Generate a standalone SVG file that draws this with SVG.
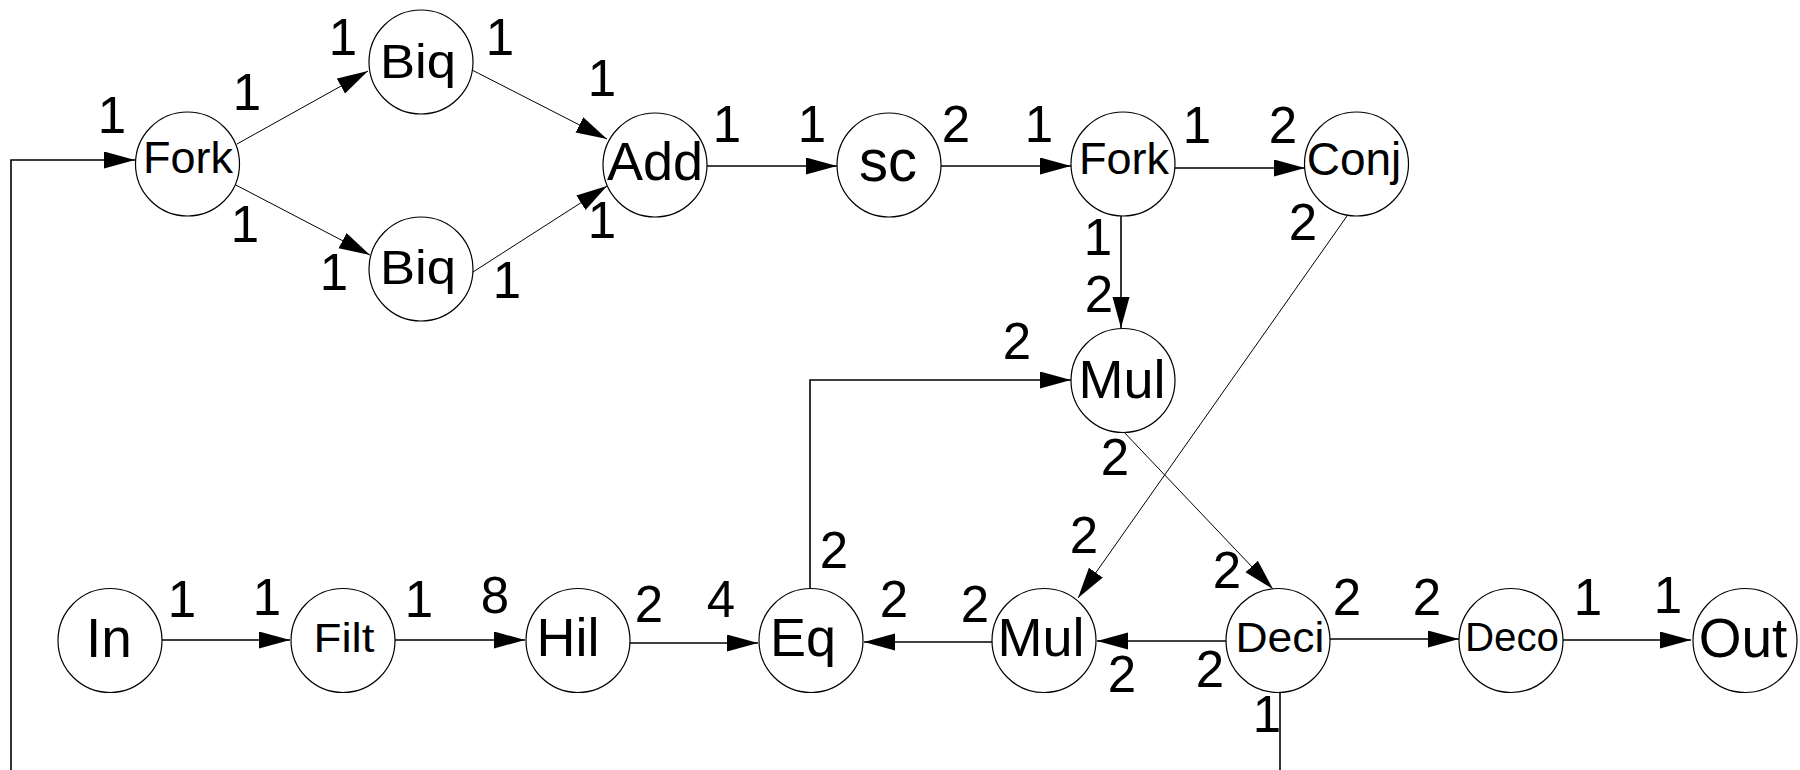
<svg xmlns="http://www.w3.org/2000/svg" width="1800" height="770" viewBox="0 0 1800 770">
<style>
.node circle{fill:#fff;stroke:#000;stroke-width:1.2}
.nt{font-family:"Liberation Sans",Arial,sans-serif;fill:#000;text-anchor:middle}
.lbl{font-family:"Liberation Sans",Arial,sans-serif;font-size:51px;fill:#000;text-anchor:middle}
.e{fill:none;stroke:#000;stroke-width:1.6}
.d{fill:none;stroke:#000;stroke-width:1}
</style>
<defs>
<marker id="ah" markerUnits="userSpaceOnUse" markerWidth="32" markerHeight="18" refX="31" refY="8.5" orient="auto">
<path d="M0,0 L31,8.5 L0,17 z" fill="#000"/>
</marker>
</defs>
<rect width="1800" height="770" fill="#fff"/>
<g id="connectors">
<polyline class="e" points="11,770 11,160 135,160" marker-end="url(#ah)"/>
<line class="e" x1="1280" y1="693" x2="1280" y2="770"/>
<line class="d" x1="237" y1="144" x2="368" y2="71" marker-end="url(#ah)"/>
<line class="d" x1="232" y1="183" x2="370" y2="255" marker-end="url(#ah)"/>
<line class="d" x1="470" y1="69" x2="607" y2="139" marker-end="url(#ah)"/>
<line class="d" x1="473" y1="272" x2="607" y2="186" marker-end="url(#ah)"/>
<line class="e" x1="707" y1="166" x2="837" y2="166" marker-end="url(#ah)"/>
<line class="e" x1="941" y1="166" x2="1071" y2="166" marker-end="url(#ah)"/>
<line class="e" x1="1175" y1="168" x2="1305" y2="168" marker-end="url(#ah)"/>
<line class="e" x1="1121" y1="216" x2="1121" y2="328" marker-end="url(#ah)"/>
<polyline class="e" points="810,588 810,380 1071,380" marker-end="url(#ah)"/>
<line class="d" x1="1347" y1="216" x2="1078" y2="598" marker-end="url(#ah)"/>
<line class="d" x1="1122" y1="430" x2="1273" y2="589" marker-end="url(#ah)"/>
<line class="e" x1="1226" y1="641" x2="1097" y2="641" marker-end="url(#ah)"/>
<line class="e" x1="993" y1="642" x2="864" y2="642" marker-end="url(#ah)"/>
<line class="e" x1="629" y1="643" x2="758" y2="643" marker-end="url(#ah)"/>
<line class="e" x1="162" y1="640" x2="290" y2="640" marker-end="url(#ah)"/>
<line class="e" x1="395" y1="640" x2="525" y2="640" marker-end="url(#ah)"/>
<line class="e" x1="1330" y1="639" x2="1459" y2="639" marker-end="url(#ah)"/>
<line class="e" x1="1563" y1="640" x2="1691" y2="640" marker-end="url(#ah)"/>
</g>
<g id="edge-labels">
<text class="lbl" x="112" y="133">1</text>
<text class="lbl" x="247" y="110">1</text>
<text class="lbl" x="343" y="55">1</text>
<text class="lbl" x="500" y="55">1</text>
<text class="lbl" x="245" y="242">1</text>
<text class="lbl" x="334" y="290">1</text>
<text class="lbl" x="507" y="298">1</text>
<text class="lbl" x="602" y="96">1</text>
<text class="lbl" x="602" y="238">1</text>
<text class="lbl" x="727" y="142">1</text>
<text class="lbl" x="812" y="142">1</text>
<text class="lbl" x="956" y="142">2</text>
<text class="lbl" x="1039" y="142">1</text>
<text class="lbl" x="1197" y="143">1</text>
<text class="lbl" x="1283" y="143">2</text>
<text class="lbl" x="1303" y="240">2</text>
<text class="lbl" x="1098" y="255">1</text>
<text class="lbl" x="1099" y="312">2</text>
<text class="lbl" x="1017" y="359">2</text>
<text class="lbl" x="1115" y="475">2</text>
<text class="lbl" x="834" y="568">2</text>
<text class="lbl" x="1084" y="553">2</text>
<text class="lbl" x="182" y="617">1</text>
<text class="lbl" x="267" y="615">1</text>
<text class="lbl" x="419" y="617">1</text>
<text class="lbl" x="495" y="613">8</text>
<text class="lbl" x="649" y="622">2</text>
<text class="lbl" x="721" y="617">4</text>
<text class="lbl" x="894" y="617">2</text>
<text class="lbl" x="975" y="622">2</text>
<text class="lbl" x="1227" y="588">2</text>
<text class="lbl" x="1347" y="615">2</text>
<text class="lbl" x="1427" y="615">2</text>
<text class="lbl" x="1122" y="692">2</text>
<text class="lbl" x="1210" y="687">2</text>
<text class="lbl" x="1267" y="732">1</text>
<text class="lbl" x="1588" y="615">1</text>
<text class="lbl" x="1668" y="613">1</text>
</g>
<g id="n-fork1" class="node"><circle cx="187.5" cy="164" r="52"/><text class="nt" x="188" y="173" font-size="45">Fork</text></g>
<g id="n-biq1" class="node"><circle cx="421" cy="62" r="52"/><text class="nt" x="418" y="78" font-size="48" textLength="76" lengthAdjust="spacingAndGlyphs">Biq</text></g>
<g id="n-biq2" class="node"><circle cx="421" cy="269" r="52"/><text class="nt" x="418" y="284" font-size="48" textLength="76" lengthAdjust="spacingAndGlyphs">Biq</text></g>
<g id="n-add" class="node"><circle cx="655" cy="165" r="52"/><text class="nt" x="655" y="180" font-size="54">Add</text></g>
<g id="n-sc" class="node"><circle cx="889" cy="165" r="52"/><text class="nt" x="888" y="181" font-size="60" textLength="58" lengthAdjust="spacingAndGlyphs">sc</text></g>
<g id="n-fork2" class="node"><circle cx="1123" cy="164" r="52"/><text class="nt" x="1124" y="174" font-size="45">Fork</text></g>
<g id="n-conj" class="node"><circle cx="1356.5" cy="164" r="52"/><text class="nt" x="1354" y="175" font-size="46">Conj</text></g>
<g id="n-mul1" class="node"><circle cx="1123" cy="380.5" r="52"/><text class="nt" x="1122" y="398" font-size="54">Mul</text></g>
<g id="n-in" class="node"><circle cx="110" cy="640.5" r="52"/><text class="nt" x="109" y="657" font-size="55">In</text></g>
<g id="n-filt" class="node"><circle cx="343" cy="640.5" r="52"/><text class="nt" x="344" y="652" font-size="40" textLength="61" lengthAdjust="spacingAndGlyphs">Filt</text></g>
<g id="n-hil" class="node"><circle cx="578" cy="640.5" r="52"/><text class="nt" x="568" y="656" font-size="54">Hil</text></g>
<g id="n-eq" class="node"><circle cx="811" cy="640.5" r="52"/><text class="nt" x="803" y="656" font-size="54">Eq</text></g>
<g id="n-mul2" class="node"><circle cx="1044" cy="640.5" r="52"/><text class="nt" x="1041" y="656" font-size="54">Mul</text></g>
<g id="n-deci" class="node"><circle cx="1278" cy="640.5" r="52"/><text class="nt" x="1280" y="652" font-size="43" textLength="89" lengthAdjust="spacingAndGlyphs">Deci</text></g>
<g id="n-deco" class="node"><circle cx="1511" cy="640.5" r="52"/><text class="nt" x="1512" y="651" font-size="40" textLength="94" lengthAdjust="spacingAndGlyphs">Deco</text></g>
<g id="n-out" class="node"><circle cx="1745" cy="640.5" r="52"/><text class="nt" x="1743" y="657" font-size="55">Out</text></g>
</svg>
